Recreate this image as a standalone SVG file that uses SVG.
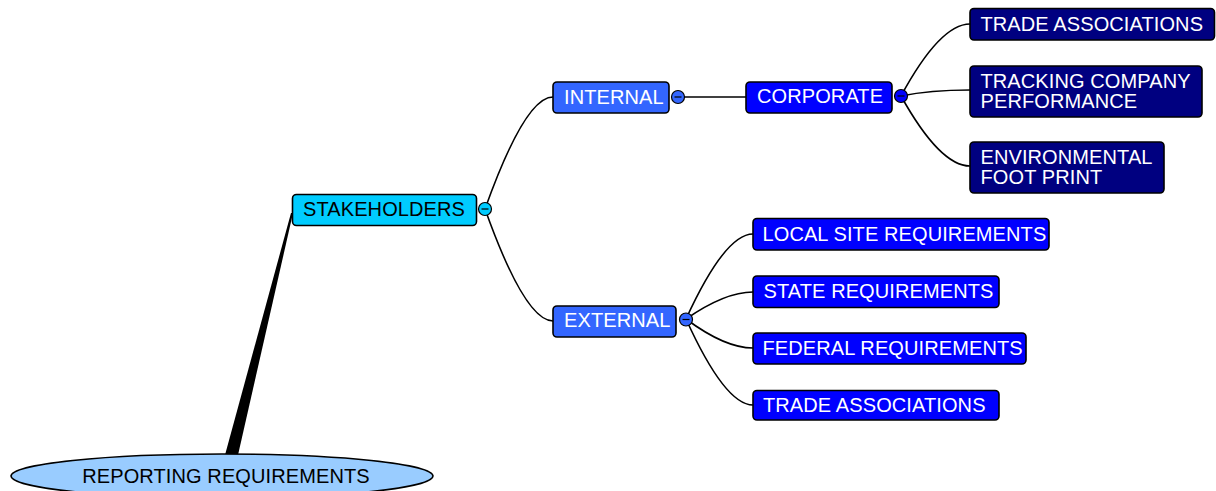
<svg xmlns="http://www.w3.org/2000/svg" width="1216" height="491" viewBox="0 0 1216 491">
<style>
.box{stroke:#000;stroke-width:1.6}
.t{font-family:"Liberation Sans",Arial,sans-serif;font-size:20px;letter-spacing:0.1px;fill:#fff}
.tk{fill:#000}
.c{fill:none;stroke:#000;stroke-width:1.6}
.tog{stroke:#000;stroke-width:1.2}
.minus{stroke:#000;stroke-width:1.2}
</style>
<rect width="1216" height="491" fill="#fff"/>
<g id="connectors">
<polygon points="225,455 238,455 293,213 291,213" fill="#000"/>
<path class="c" d="M485,209 Q525,97 553,97"/>
<path class="c" d="M485,209 Q525,321 553,321"/>
<path class="c" d="M678,97 L746,97"/>
<path class="c" d="M901,96 Q940,24 970,24"/>
<path class="c" d="M901,96 Q930,90 970,90"/>
<path class="c" d="M901,96 Q940,166 970,166"/>
<path class="c" d="M686,319 Q725,234 753,234"/>
<path class="c" d="M686,319 Q725,292 753,292"/>
<path class="c" d="M686,319 Q725,348 753,348"/>
<path class="c" d="M686,319 Q725,405 753,405"/>
</g>
<g id="root">
<ellipse cx="222" cy="476" rx="211" ry="22" fill="#99CCFF" stroke="#000" stroke-width="1.6"/>
<text class="t tk" x="226" y="483" text-anchor="middle">REPORTING REQUIREMENTS</text>
</g>
<g id="stakeholders">
<rect class="box" x="292.5" y="194.5" width="184" height="31" rx="4" fill="#00CCFF"/>
<text class="t tk" x="303" y="216">STAKEHOLDERS</text>
<circle class="tog" cx="485" cy="209" r="6.5" fill="#00CCFF"/>
<line class="minus" x1="481.5" y1="209" x2="488.5" y2="209"/>
</g>
<g id="internal">
<rect class="box" x="553" y="82" width="116" height="31" rx="4" fill="#3366FF"/>
<text class="t" x="564" y="103.5">INTERNAL</text>
<circle class="tog" cx="678" cy="97" r="6.5" fill="#3366FF"/>
<line class="minus" x1="674.5" y1="97" x2="681.5" y2="97"/>
</g>
<g id="corporate">
<rect class="box" x="746" y="82" width="146" height="31" rx="4" fill="#0000FF"/>
<text class="t" x="757" y="103">CORPORATE</text>
<circle class="tog" cx="901" cy="96" r="6.5" fill="#0000FF"/>
<line class="minus" x1="897.5" y1="96" x2="904.5" y2="96"/>
</g>
<g id="trade-assoc-corp">
<rect class="box" x="970" y="8.5" width="244.5" height="31.5" rx="4" fill="#000080"/>
<text class="t" x="980.5" y="30.5">TRADE ASSOCIATIONS</text>
</g>
<g id="tracking">
<rect class="box" x="970" y="66" width="232" height="51" rx="4" fill="#000080"/>
<text class="t" x="980.5" y="87.5">TRACKING COMPANY</text>
<text class="t" x="980.5" y="107.5">PERFORMANCE</text>
</g>
<g id="environmental">
<rect class="box" x="970" y="142" width="194" height="51" rx="4" fill="#000080"/>
<text class="t" x="980.5" y="164">ENVIRONMENTAL</text>
<text class="t" x="980.5" y="184">FOOT PRINT</text>
</g>
<g id="external">
<rect class="box" x="553" y="306" width="123" height="31" rx="4" fill="#3366FF"/>
<text class="t" x="564" y="327">EXTERNAL</text>
<circle class="tog" cx="686" cy="319.5" r="6.5" fill="#3366FF"/>
<line class="minus" x1="682.5" y1="319.5" x2="689.5" y2="319.5"/>
</g>
<g id="local-site">
<rect class="box" x="753" y="218.5" width="296" height="31.5" rx="4" fill="#0000FF"/>
<text class="t" x="762.5" y="240.7">LOCAL SITE REQUIREMENTS</text>
</g>
<g id="state">
<rect class="box" x="753" y="276" width="246" height="31.5" rx="4" fill="#0000FF"/>
<text class="t" x="763.5" y="298.3">STATE REQUIREMENTS</text>
</g>
<g id="federal">
<rect class="box" x="753" y="333" width="273" height="31" rx="4" fill="#0000FF"/>
<text class="t" x="762.5" y="355">FEDERAL REQUIREMENTS</text>
</g>
<g id="trade-assoc-ext">
<rect class="box" x="753" y="390.5" width="246" height="29.5" rx="4" fill="#0000FF"/>
<text class="t" x="763" y="411.7">TRADE ASSOCIATIONS</text>
</g>
</svg>
